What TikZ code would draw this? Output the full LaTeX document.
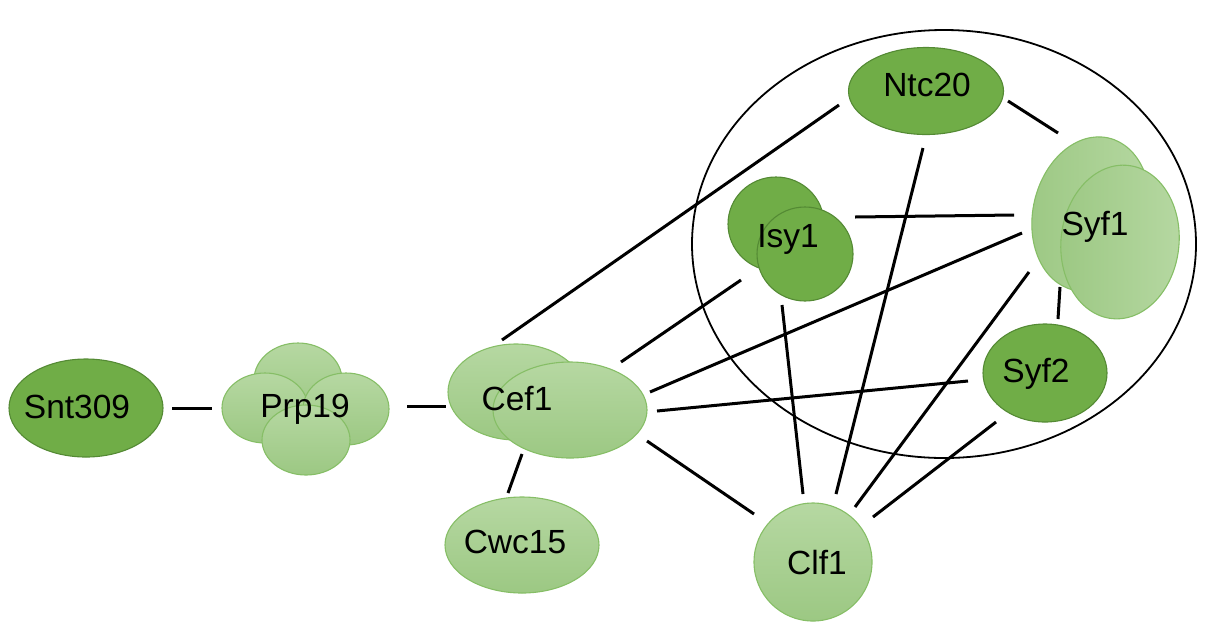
\documentclass[tikz,border=0pt]{standalone}
\usepackage{fontspec}
\setmainfont{Liberation Sans}
\usetikzlibrary{shapes.geometric,shadings}

\definecolor{darkg}{HTML}{70AD47}
\definecolor{darkrim}{HTML}{548A34}
\definecolor{lighttop}{HTML}{B6D8A2}
\definecolor{lightbot}{HTML}{9CC883}
\definecolor{lightrim}{HTML}{86BE66}

\newcommand{\protfont}{\fontsize{33.5}{40}\selectfont}

\tikzset{
  darkprot/.style={ellipse, draw=darkrim, fill=darkg, line width=1.1pt, inner sep=0pt},
  lightprot/.style={ellipse, draw=lightrim, top color=lighttop, bottom color=lightbot, line width=1.1pt, inner sep=0pt},
  sideprot/.style={ellipse, draw=lightrim, left color=lightbot, right color=lighttop, line width=1.1pt, inner sep=0pt},
  protlabel/.style={anchor=base, inner sep=0pt, font=\protfont, text=black},
  link/.style={line width=3pt, black},
  complexring/.style={ellipse, draw=black, line width=1.8pt, inner sep=0pt}
}

\begin{document}
\begin{tikzpicture}[x=1pt, y=-1pt]
\useasboundingbox (0,0) rectangle (1206,622);

% complex outline
\node[complexring, minimum width=504pt, minimum height=428pt] (ring) at (944,244) {};

% proteins (shapes)
\node[darkprot, minimum width=154pt, minimum height=98pt] (snt) at (86,408) {};

\node[lightprot, minimum width=88pt, minimum height=74pt] (prpA) at (298,380) {};
\node[lightprot, minimum width=86pt, minimum height=70pt] (prpB) at (265,408) {};
\node[lightprot, minimum width=86pt, minimum height=72pt] (prpC) at (346,409) {};
\node[lightprot, minimum width=88pt, minimum height=70pt] (prpD) at (306,440) {};

\node[lightprot, minimum width=136pt, minimum height=96pt] (cefA) at (516,392) {};
\node[lightprot, minimum width=154pt, minimum height=96pt] (cefB) at (570,410) {};

\node[lightprot, minimum width=154pt, minimum height=96pt] (cwc) at (522,545) {};

\node[darkprot, minimum width=155pt, minimum height=87pt] (ntc) at (926,91) {};

\node[darkprot, minimum width=96pt, minimum height=94pt] (isyA) at (776,224) {};
\node[darkprot, minimum width=96pt, minimum height=94pt] (isyB) at (805,254) {};

\node[sideprot, rotate=-13, minimum width=116pt, minimum height=156pt] (syfA) at (1091,214) {};
\node[sideprot, rotate=-6, minimum width=118pt, minimum height=154pt] (syfB) at (1120,242) {};

\node[darkprot, minimum width=124pt, minimum height=98pt] (syf2) at (1045,373) {};

\node[lightprot, minimum width=118pt, minimum height=118pt] (clf) at (813,562) {};

% labels
\node[protlabel] (sntlab) at (77,418) {Snt309};
\node[protlabel] (prplab) at (305,417) {Prp19};
\node[protlabel] (ceflab) at (517,410) {Cef1};
\node[protlabel] (cwclab) at (515,553) {Cwc15};
\node[protlabel] (ntclab) at (927,96) {Ntc20};
\node[protlabel] (isylab) at (788,247) {Isy1};
\node[protlabel] (syflab) at (1095,235) {Syf1};
\node[protlabel] (syf2lab) at (1036,382) {Syf2};
\node[protlabel] (clflab) at (817,574) {Clf1};

% interactions
\draw[link] ([shift={(86,0)}]snt.center) -- ([shift={(-53,0)}]prpB.center);
\draw[link] ([shift={(61,-3)}]prpC.center) -- ([shift={(-70,14)}]cefA.center);
\draw[link] ([shift={(-48,44)}]cefB.center) -- ([shift={(-14,-52)}]cwc.center);
\draw[link] ([shift={(-14,-52)}]cefA.center) -- ([shift={(-87,14)}]ntc.center);
\draw[link] ([shift={(51,-48)}]cefB.center) -- ([shift={(-64,26)}]isyB.center);
\draw[link] ([shift={(80,-18)}]cefB.center) -- ([shift={(-98,-9)}]syfB.center);
\draw[link] ([shift={(87,1)}]cefB.center) -- ([shift={(-77,8)}]syf2.center);
\draw[link] ([shift={(77,31)}]cefB.center) -- ([shift={(-59,-48)}]clf.center);
\draw[link] ([shift={(50,-37)}]isyB.center) -- ([shift={(-106,-27)}]syfB.center);
\draw[link] ([shift={(-23,51)}]isyB.center) -- ([shift={(-10,-68)}]clf.center);
\draw[link] ([shift={(-3,57)}]ntc.center) -- ([shift={(23,-68)}]clf.center);
\draw[link] ([shift={(82,10)}]ntc.center) -- ([shift={(-33,-81)}]syfA.center);
\draw[link] ([shift={(-60,45)}]syfB.center) -- ([shift={(13,-54)}]syf2.center);
\draw[link] ([shift={(-91,30)}]syfB.center) -- ([shift={(42,-55)}]clf.center);
\draw[link] ([shift={(-49,49)}]syf2.center) -- ([shift={(60,-45)}]clf.center);
\end{tikzpicture}
\end{document}
